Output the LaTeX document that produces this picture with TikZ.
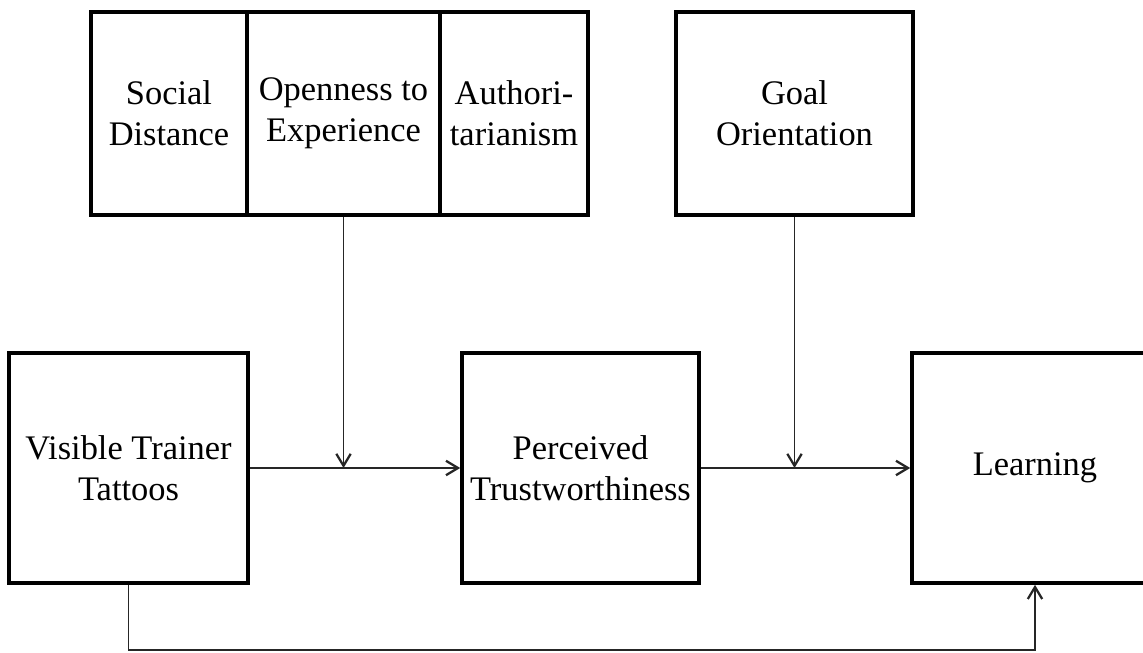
\documentclass[tikz,border=0pt]{standalone}
\usepackage{fontspec}
\setmainfont{Liberation Serif}
\usetikzlibrary{arrows.meta,positioning}

\begin{document}
\begin{tikzpicture}[
    box/.style={draw=black,line width=2.6pt,align=center,inner sep=2pt,
        font=\fontsize{24.5}{29}\selectfont},
    topbox/.style={box,minimum height=5.075cm},
    midbox/.style={box,minimum height=5.75cm},
    link/.style={draw=black!85,line width=1.1pt,
        -{Straight Barb[length=3mm,width=3.6mm,line width=1.6pt]}},
    ]
    \useasboundingbox (0,0) rectangle (28.575,16.3);
    \clip (0,0) rectangle (28.575,16.3);

    %moderators
    \node[topbox,minimum width=3.9cm] (social) at (4.225,13.4625) {Social\\Distance};
    \node[topbox,minimum width=4.825cm] (open) at (8.5875,13.4625) {Openness to\\Experience};
    \node[topbox,minimum width=3.7cm] (auth) at (12.85,13.4625) {Authori-\\tarianism};
    \node[topbox,minimum width=5.925cm] (goal) at (19.8625,13.4625) {Goal\\Orientation};

    %main path
    \node[midbox,minimum width=5.975cm] (tattoo) at (3.2125,4.6) {Visible Trainer\\Tattoos};
    \node[midbox,minimum width=5.925cm] (trust) at (14.5125,4.6) {Perceived\\Trustworthiness};
    \node[midbox,minimum width=6.15cm] (learn) at (25.875,4.6) {Learning};

    %arrows
    \draw[link] (tattoo.east) -- (trust.west);
    \draw[link] (trust.east) -- (learn.west);
    \draw[link] (open.south) -- (open.south |- tattoo.east);
    \draw[link] (goal.south) -- (goal.south |- trust.east);
    \coordinate (low) at (0,0.05);
    \draw[link] (tattoo.south) -- (tattoo.south |- low) -- (learn.south |- low) -- (learn.south);

\end{tikzpicture}
\end{document}
